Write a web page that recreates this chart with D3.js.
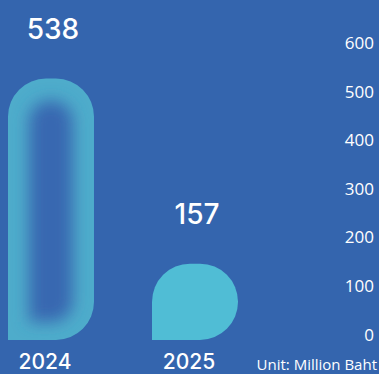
<!DOCTYPE html>
<html>
<head>
<meta charset="utf-8">
<script src="https://cdn.jsdelivr.net/npm/d3@7"></script>
<style>
  html, body { margin: 0; padding: 0; background: #3465ae; overflow: hidden; }
  svg { display: block; }
</style>
</head>
<body>
<script>
// Revenue by year (million baht)
const years = ["2024", "2025"];
const revenue = [538, 157];
const tickValues = [0, 100, 200, 300, 400, 500, 600];
const unitLabel = "Unit: Million Baht";

const W = 379, H = 374;
const BG = "#3465ae";
const FONT = "'Open Sans', 'Noto Sans', sans-serif";
const HEAD_FONT = "Inter, 'Open Sans', sans-serif";

const svg = d3.select("body").append("svg")
  .attr("width", W).attr("height", H);

svg.append("rect").attr("width", W).attr("height", H).attr("fill", BG);

const x = d3.scaleBand().domain(years).range([8, 238])
  .paddingInner(0.403).paddingOuter(0);
const y = d3.scaleLinear().domain([0, 600]).range([340, 48.5]);

// Bar outline: rounded top corners and bottom-right corner, square bottom-left
function barPath(x0, y0, w, h, r) {
  r = Math.max(0, Math.min(r, w / 2, h / 2));
  const p = d3.path();
  p.moveTo(x0, y0 + h);
  p.lineTo(x0, y0 + r);
  p.arcTo(x0, y0, x0 + r, y0, r);
  p.lineTo(x0 + w - r, y0);
  p.arcTo(x0 + w, y0, x0 + w, y0 + r, r);
  p.lineTo(x0 + w, y0 + h - r);
  p.arcTo(x0 + w, y0 + h, x0 + w - r, y0 + h, r);
  p.closePath();
  return p.toString();
}

const defs = svg.append("defs");
const blur = defs.append("filter").attr("id", "soft")
  .attr("x", "-50%").attr("y", "-50%").attr("width", "200%").attr("height", "200%");
blur.append("feGaussianBlur").attr("stdDeviation", 8);

const RADIUS = 38;
const data = years.map((yr, i) => ({ year: yr, value: revenue[i], i }));

const bars = svg.append("g").selectAll("g.bar").data(data).join("g").attr("class", "bar");

bars.each(function (d) {
  const g = d3.select(this);
  const x0 = x(d.year), w = x.bandwidth();
  const y0 = y(d.value), h = y(0) - y(d.value);
  const outline = barPath(x0, y0, w, h, RADIUS);
  if (d.i === 0) {
    // bar with an inner glow: cyan rim fading into a blue core
    defs.append("clipPath").attr("id", "clip-" + d.year)
      .append("path").attr("d", outline);
    g.append("path").attr("d", outline).attr("fill", "#4eaccb");
    g.append("g").attr("clip-path", "url(#clip-" + d.year + ")")
      .append("path")
      .attr("d", barPath(x0 + 21, y0 + 22, w - 42, h - 40, 21))
      .attr("fill", "#3867b1")
      .attr("filter", "url(#soft)");
  } else {
    g.append("path").attr("d", outline).attr("fill", "#50bdd5");
  }
});

// value labels above bars
svg.append("g").selectAll("text").data(data).join("text")
  .attr("x", d => x(d.year) + x.bandwidth() / 2 + 2)
  .attr("y", d => y(d.value) - 40)
  .attr("text-anchor", "middle")
  .attr("fill", "#ffffff")
  .attr("font-family", HEAD_FONT)
  .attr("font-size", 28)
  .attr("font-weight", 500)
  .text(d => d.value);

// year labels
svg.append("g").selectAll("text").data(data).join("text")
  .attr("x", d => x(d.year) + x.bandwidth() / 2 - 6)
  .attr("y", 369)
  .attr("text-anchor", "middle")
  .attr("fill", "#ffffff")
  .attr("font-family", HEAD_FONT)
  .attr("font-size", 21)
  .attr("font-weight", 500)
  .text(d => d.year);

// value axis on the right, labels sitting on their tick lines
const axis = svg.append("g").attr("transform", "translate(374,0)")
  .call(d3.axisLeft(y).tickValues(tickValues).tickSize(0).tickPadding(0));
axis.select(".domain").remove();
axis.selectAll("text")
  .attr("dy", 0)
  .attr("fill", "#ffffff")
  .attr("font-family", FONT)
  .attr("font-size", 17);

svg.append("text")
  .attr("x", 377).attr("y", 370)
  .attr("text-anchor", "end")
  .attr("fill", "#ffffff")
  .attr("font-family", FONT)
  .attr("font-size", 15)
  .text(unitLabel);
</script>
</body>
</html>
